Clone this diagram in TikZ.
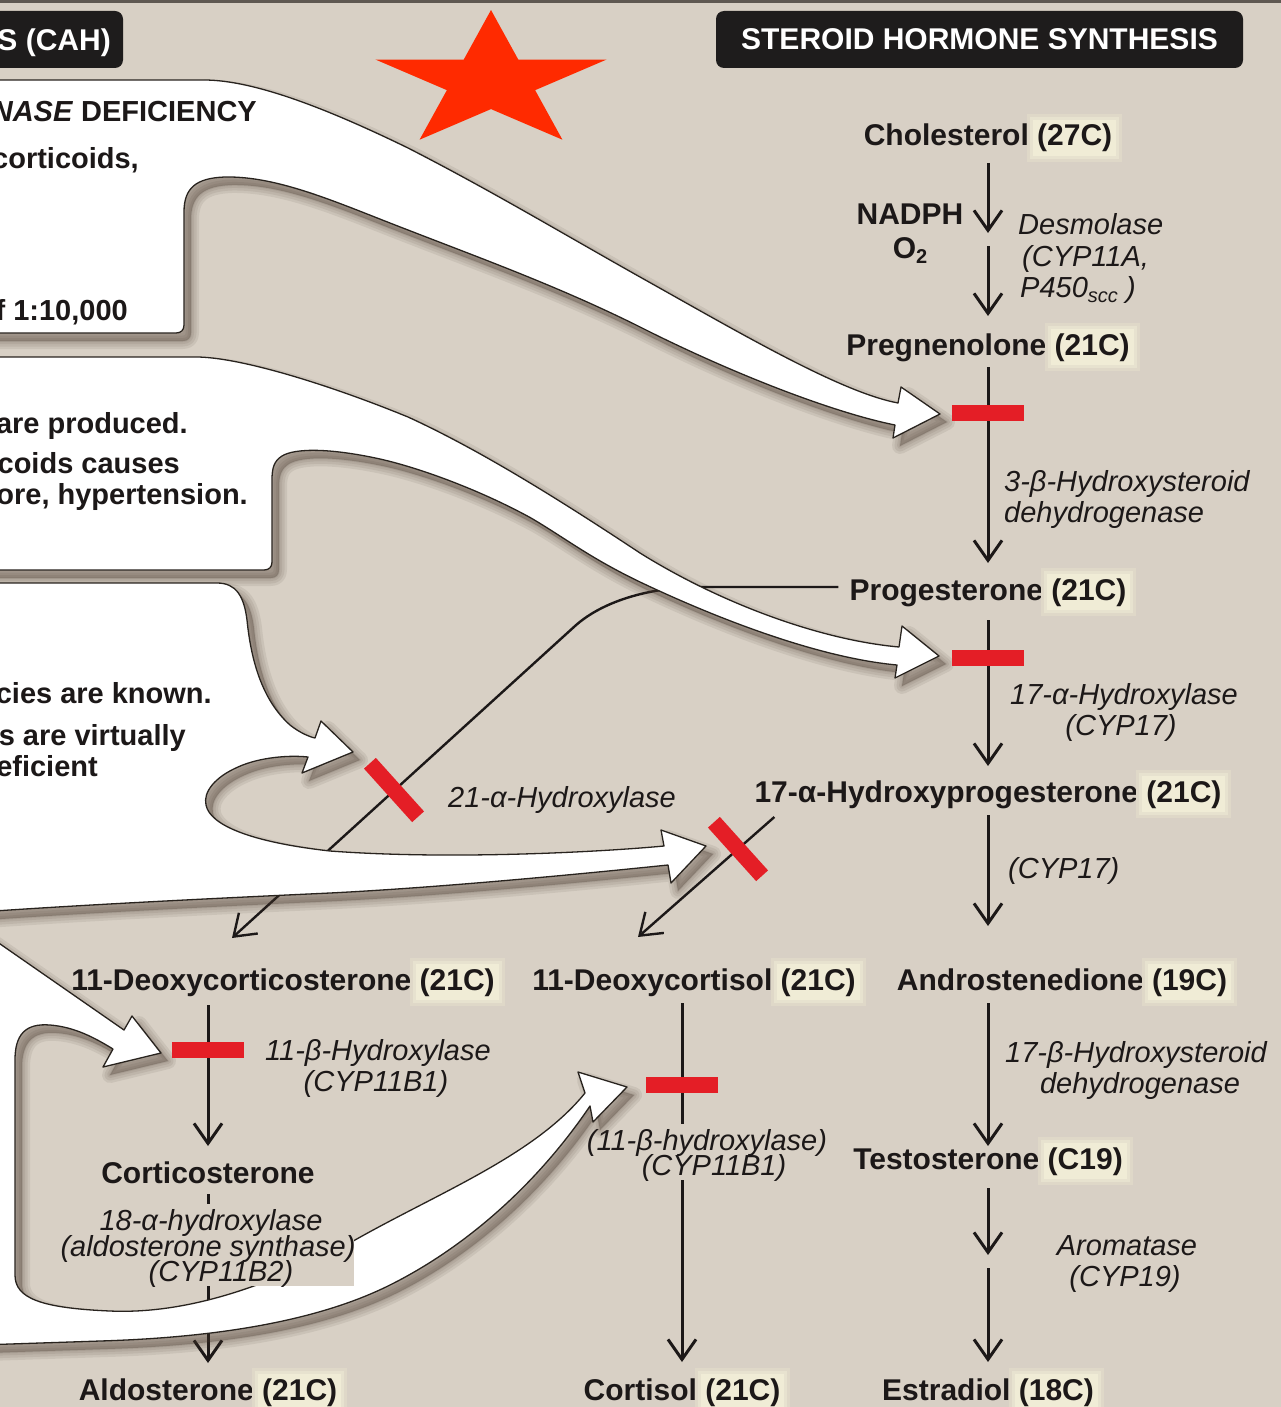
\documentclass[tikz,border=0pt]{standalone}
\usepackage{fontspec}
\setmainfont{Liberation Sans}
\usetikzlibrary{arrows.meta,calc}
\definecolor{bgc}{RGB}{216,208,197}
\definecolor{topc}{RGB}{95,88,82}
\definecolor{boxc}{RGB}{30,28,28}
\definecolor{txtc}{RGB}{28,24,24}
\definecolor{redc}{RGB}{228,30,38}
\definecolor{starc}{RGB}{255,42,0}
\definecolor{edgec}{RGB}{40,35,30}
\definecolor{shc}{RGB}{70,55,45}
\definecolor{hla}{RGB}{223,216,200}
\definecolor{hlb}{RGB}{231,226,207}
\definecolor{hlc}{RGB}{240,236,214}
\newcommand{\hlt}[1]{\kern-10pt\smash{\setlength{\fboxsep}{3pt}\colorbox{hla}{\colorbox{hlb}{\setlength{\fboxsep}{4pt}\colorbox{hlc}{\vphantom{(}#1}}}}\kern-10pt}
\newcommand{\dropshadow}[1]{\foreach \w in {16,11,6,2}{\path[fill=shc, draw=shc, fill opacity=0.09, draw opacity=0.09, line width=\w pt, line join=round, shift={(7,8)}] #1;}}
\def\shA{(-20,80) -- (204,80) .. controls (255,80) and (330,110) .. (408,148) .. controls (490,190) and (560,232) .. (640,277) .. controls (740,333) and (840,392) .. (898,403) -- (901,387) -- (940,414) -- (893,438) -- (895,425) .. controls (835,413) and (735,375) .. (640,327) .. controls (560,287) and (480,258) .. (408,230) .. controls (340,204) and (280,176) .. (225,177) .. controls (196,178) and (184,188) .. (184,212) -- (184,325) .. controls (184,330) and (181,333) .. (176,333) -- (-20,333) -- cycle}
\def\shB{(-20,357) -- (196,357) .. controls (240,357) and (330,385) .. (408,417) .. controls (480,450) and (560,500) .. (640,553) .. controls (720,603) and (820,640) .. (899,647) -- (902,626) -- (939,656) -- (895,678) -- (897,665) .. controls (820,658) and (720,620) .. (640,582) .. controls (590,558) and (565,538) .. (531,518) .. controls (480,490) and (420,468) .. (380,459) .. controls (330,448) and (295,448) .. (282,456) .. controls (274,461) and (272,468) .. (272,480) -- (272,562) .. controls (272,567) and (269,570) .. (264,570) -- (-20,570) -- cycle}
\def\shC{(-20,583) -- (217,583) .. controls (236,583) and (244,596) .. (247,620) .. controls (251,660) and (262,700) .. (290,725) .. controls (300,733) and (310,737) .. (315,738) -- (321,721) -- (353,752) -- (302,773) -- (308,757) .. controls (290,755) and (260,757) .. (238,767) .. controls (215,777) and (203,792) .. (206,805) .. controls (210,825) and (250,842) .. (330,851) .. controls (450,860) and (600,852) .. (664,846) -- (661,830) -- (706,846) -- (671,883) -- (668,865) .. controls (600,872) and (450,887) .. (330,893) .. controls (200,899) and (80,905) .. (-20,912) -- cycle}
\def\shD{(-20,930) -- (124,1030) -- (132,1016) -- (161,1053) -- (103,1067) -- (113,1049) .. controls (95,1038) and (75,1027) .. (50,1025) .. controls (25,1023) and (15,1035) .. (15,1060) -- (15,1275) .. controls (15,1298) and (40,1308) .. (110,1311) .. controls (200,1315) and (290,1275) .. (355,1240) .. controls (440,1192) and (535,1155) .. (585,1093) -- (578,1072) -- (627,1087) -- (593,1122) -- (590,1106) .. controls (540,1180) and (470,1245) .. (390,1285) .. controls (310,1325) and (200,1338) .. (100,1341) -- (-20,1345) -- cycle}
\begin{document}
\begin{tikzpicture}[x=1pt,y=-1pt,
  lbl/.style={font=\bfseries\fontsize{30}{34}\selectfont, text=txtc, inner sep=0pt, anchor=base},
  enz/.style={font=\itshape\fontsize{29}{31}\selectfont, text=txtc, inner sep=0pt, anchor=base},
  note/.style={font=\bfseries\fontsize{29}{31}\selectfont, text=txtc, inner sep=0pt, anchor=base east},
  arr/.style={draw=txtc, line width=3pt, -{Straight Barb[length=20pt,width=28pt]}},
  rbar/.style={fill=redc, minimum width=72pt, minimum height=16pt, inner sep=0pt},
  callout/.style={fill=white, draw=edgec, line width=1.3pt, line join=round},
  plate/.style={fill=bgc}]
\useasboundingbox (0,0) rectangle (1281,1407);
\clip (0,0) rectangle (1281,1407);
\fill[bgc] (0,0) rectangle (1281,1407);
\fill[topc] (0,0) rectangle (1281,3);
% star
\begin{scope}[shift={(491,81.7)}, yscale=-0.59]
\fill[starc] (90:121.5) -- (126:46.4) -- (162:121.5) -- (198:46.4) -- (234:121.5) -- (270:46.4) -- (306:121.5) -- (342:46.4) -- (18:121.5) -- (54:46.4) -- cycle;
\end{scope}
% title boxes
\node[fill=boxc, rounded corners=8pt, minimum width=527pt, minimum height=57pt, inner sep=0pt, text=white, font=\bfseries\fontsize{30}{34}\selectfont] (ttl) at (979.5,39.5) {STEROID HORMONE SYNTHESIS};
\fill[boxc, rounded corners=8pt] (-20,11) rectangle (123,68);
\node[font=\bfseries\fontsize{30}{34}\selectfont, text=white, inner sep=0pt, anchor=base east] (cah) at (111,51) {S (CAH)};
% pathway nodes
\node[lbl] (chol) at (988,146) {Cholesterol \hlt{(27C)}};
\node[lbl] (nadph) at (910,224) {NADPH};
\node[lbl] (o2) at (910,258) {O\raisebox{-5pt}{\fontsize{20}{20}\selectfont 2}};
\node[enz, anchor=base west] (ds1) at (1018,234) {Desmolase};
\node[enz, anchor=base west] (ds2) at (1022,266) {(CYP11A,};
\node[enz, anchor=base west] (ds3) at (1020,297) {P450\raisebox{-5pt}{\fontsize{20}{20}\selectfont scc}\ )};
\coordinate (dsm) at (988,239);
\node[lbl] (preg) at (988,355) {Pregnenolone \hlt{(21C)}};
\node[enz, anchor=base west] (h3a) at (1004,491) {3-β-Hydroxysteroid};
\node[enz, anchor=base west] (h3b) at (1004,522) {dehydrogenase};
\node[lbl] (prog) at (988,600) {Progesterone \hlt{(21C)}};
\node[enz] (h17a) at (1124,704) {17-α-Hydroxylase};
\node[enz] (h17b) at (1121,735) {(CYP17)};
\node[lbl] (ohp) at (988,802) {17-α-Hydroxyprogesterone \hlt{(21C)}};
\node[enz, anchor=base west] (c17) at (1008,878) {(CYP17)};
\node[lbl] (andro) at (1062,990) {Androstenedione \hlt{(19C)}};
\node[enz] (hb1) at (1136,1062) {17-β-Hydroxysteroid};
\node[enz] (hb2) at (1140,1093) {dehydrogenase};
\node[lbl] (testo) at (988,1169) {Testosterone \hlt{(C19)}};
\coordinate (aro) at (988,1261);
\node[enz] (ar1) at (1127,1255) {Aromatase};
\node[enz] (ar2) at (1125,1286) {(CYP19)};
\node[lbl] (estr) at (988,1400) {Estradiol \hlt{(18C)}};
\node[lbl] (doc) at (283,990) {11-Deoxycorticosterone \hlt{(21C)}};
\node[enz] (b1a) at (378,1060) {11-β-Hydroxylase};
\node[enz] (b1b) at (376,1091) {(CYP11B1)};
\node[lbl] (cost) at (208,1183) {Corticosterone};
\node[lbl] (aldo) at (208,1400) {Aldosterone \hlt{(21C)}};
\node[lbl] (dcl) at (694,990) {11-Deoxycortisol \hlt{(21C)}};
\node[lbl] (cortisol) at (682,1400) {Cortisol \hlt{(21C)}};
\node[enz, anchor=base west] (h21) at (448,807) {21-α-Hydroxylase};
% connectors
\draw[arr] ($(chol.base)+(0,17)$) -- ($(dsm)+(0,-6)$);
\draw[arr] ($(dsm)+(0,7)$) -- ($(preg.base)+(0,-39)$);
\draw[arr] ($(preg.base)+(0,12)$) -- ($(prog.base)+(0,-37)$);
\draw[arr] ($(prog.base)+(0,20)$) -- ($(ohp.base)+(0,-36)$);
\draw[arr] ($(ohp.base)+(0,13)$) -- ($(andro.base -| ohp.base)+(0,-64)$);
\draw[arr] ($(andro.base -| testo.base)+(0,13)$) -- ($(testo.base)+(0,-23)$);
\draw[arr] ($(testo.base)+(0,19)$) -- ($(aro)+(0,-6)$);
\draw[arr] ($(aro)+(0,7)$) -- ($(estr.base)+(0,-38)$);
\draw[arr] ($(doc.base -| cost.base)+(0,15)$) -- ($(cost.base)+(0,-37)$);
\draw[arr] ($(cost.base)+(0,11)$) -- ($(aldo.base)+(0,-37)$);
\draw[arr] ($(dcl.base -| cortisol.base)+(0,13)$) -- ($(cortisol.base)+(0,-38)$);
\draw[arr, line width=2.4pt] ($(prog.base west)+(-11,-13)$) -- (700,587) .. controls (655,587) and (605,599) .. (575,626) -- ($(doc.base)+(-51,-52)$);
\draw[arr, line width=2.4pt] ($(ohp.base west)+(20,15)$) -- ($(dcl.base)+(-56,-53)$);
% middle enzyme label on plate
\fill[plate] (586,1124) rectangle (830,1180);
\node[enz] (b2a) at (707,1150) {(11-β-hydroxylase)};
\node[enz] (b2b) at (714,1175) {(CYP11B1)};
% callouts
\dropshadow{\shA}
\dropshadow{\shB}
\dropshadow{\shC}
\dropshadow{\shD}
\path[callout] \shA;
\path[callout] \shB;
\path[callout] \shC;
\path[callout] \shD;
% red bars
\node[rbar] (rb1) at (988,413) {};
\node[rbar] (rb2) at (988,658) {};
\node[rbar, rotate=-48] (rb3) at (394,790) {};
\node[rbar, rotate=-48] (rb4) at (738,849) {};
\node[rbar] (rb5) at (208,1050) {};
\node[rbar] (rb6) at (682,1085) {};
% 18-alpha label on plate
\fill[plate] (61,1204) rectangle (354,1286);
\node[enz] (a18a) at (211,1230) {18-α-hydroxylase};
\node[enz] (a18b) at (208,1256) {(aldosterone synthase)};
\node[enz] (a18c) at (221,1281) {(CYP11B2)};
% callout texts
\node[note] (nA1) at (257,122) {\textit{NASE} DEFICIENCY};
\node[note] (nA2) at (139,168) {corticoids,};
\node[note] (nA3) at (128,320) {f 1:10,000};
\node[note] (nB1) at (188,433) {are produced.};
\node[note] (nB2) at (180,473) {coids causes};
\node[note] (nB3) at (248,504) {ore, hypertension.};
\node[note] (nC1) at (212,703) {cies are known.};
\node[note] (nC2) at (186,745) {s are virtually};
\node[note] (nC3) at (98,776) {eficient};
\end{tikzpicture}
\end{document}
